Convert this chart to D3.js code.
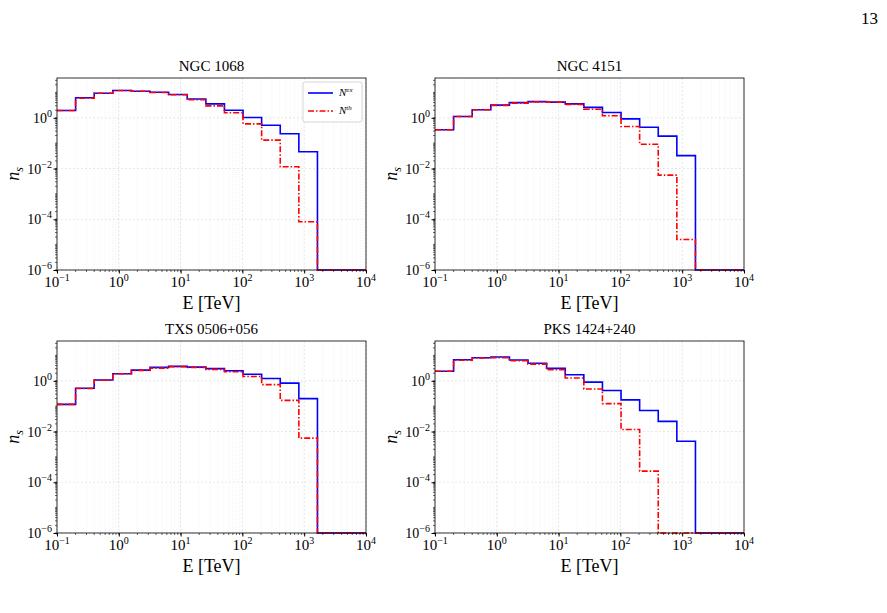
<!DOCTYPE html>
<html><head><meta charset="utf-8">
<script src="https://cdn.jsdelivr.net/npm/d3@7"></script>
<style>body{margin:0;background:#fff}text{font-family:"Liberation Serif","DejaVu Serif",serif}</style>
</head><body>
<svg id="fig" width="887" height="613"></svg>
<script>
// bin edges in TeV (last bin runs to 1e4)
const edges = [0.1,0.2,0.4,0.8,1.6,3.2,6.4,12.8,25.6,51.2,102.4,204.8,409.6,819.2,1638.4,10000];
const titles = ["NGC 1068","NGC 4151","TXS 0506+056","PKS 1424+240"];
// log10 of n_s per bin
const exLog = [
  [0.29,0.79,0.97,1.08,1.05,1.01,0.92,0.74,0.55,0.30,0.01,-0.29,-0.63,-1.34,-6],
  [-0.47,0.05,0.32,0.50,0.60,0.64,0.62,0.55,0.41,0.21,-0.04,-0.37,-0.72,-1.49,-6],
  [-0.93,-0.29,0.03,0.28,0.42,0.53,0.57,0.54,0.48,0.40,0.26,0.09,-0.09,-0.70,-6],
  [0.38,0.83,0.91,0.94,0.82,0.69,0.49,0.24,-0.05,-0.38,-0.75,-1.17,-1.60,-2.38,-6]
];
const thLog = [
  [0.29,0.77,0.97,1.08,1.05,1.00,0.91,0.71,0.47,0.20,-0.24,-0.88,-1.93,-4.10,-6],
  [-0.47,0.05,0.32,0.49,0.58,0.63,0.62,0.53,0.34,0.08,-0.34,-1.04,-2.26,-4.80,-6],
  [-0.93,-0.30,0.02,0.28,0.41,0.50,0.56,0.53,0.45,0.36,0.17,-0.15,-0.77,-2.26,-6],
  [0.38,0.81,0.90,0.91,0.79,0.66,0.44,0.11,-0.32,-0.90,-1.92,-3.56,-6,-6,-6]
];
const xTicks = [0.1,1,10,100,1000,10000];
const yTicks = [1e-6,1e-4,1e-2,1];
const sup = {"-6":"−6","-4":"−4","-2":"−2","0":"0","-1":"−1","1":"1","2":"2","3":"3","4":"4"};

const svg = d3.select("#fig");
svg.append("text").attr("x",878).attr("y",24).attr("text-anchor","end").attr("font-size",17).text("13");

const panels = [
  {x:57,y:78},{x:435,y:78},{x:57,y:341},{x:435,y:341}
];
const W = 309, H = 192;

panels.forEach((p,i) => {
  const g = svg.append("g").attr("transform",`translate(${p.x},${p.y})`);
  const x = d3.scaleLog().domain([0.1,1e4]).range([0,W]);
  const y = d3.scaleLog().domain([1e-6,Math.pow(10,1.57)]).range([H,0]);

  // grid (major + minor)
  const minorX = [];
  for (let e=-1;e<4;e++) for (let k=1;k<10;k++) minorX.push(k*Math.pow(10,e));
  minorX.push(1e4);
  const minorY = [];
  for (let e=-6;e<2;e++) for (let k=1;k<10;k++) { const v=k*Math.pow(10,e); if (v<=y.domain()[1]) minorY.push(v); }
  g.append("g").selectAll("line").data(minorX).join("line")
    .attr("x1",d=>x(d)).attr("x2",d=>x(d)).attr("y1",0).attr("y2",H)
    .attr("stroke","#e8e8e8").attr("stroke-width",0.5).attr("stroke-dasharray","1,1");
  g.append("g").selectAll("line").data(yTicks).join("line")
    .attr("y1",d=>y(d)).attr("y2",d=>y(d)).attr("x1",0).attr("x2",W)
    .attr("stroke","#d8d8d8").attr("stroke-width",0.6).attr("stroke-dasharray","2,2");
  g.append("g").selectAll("line").data(xTicks).join("line")
    .attr("x1",d=>x(d)).attr("x2",d=>x(d)).attr("y1",0).attr("y2",H)
    .attr("stroke","#d8d8d8").attr("stroke-width",0.6).attr("stroke-dasharray","2,2");

  // histograms
  const stepLine = d3.line().curve(d3.curveStepAfter).x(d=>x(d[0])).y(d=>y(d[1]));
  const pts = arr => { const a = arr.map((v,j)=>[edges[j],Math.pow(10,v)]); a.push([edges[15],Math.pow(10,arr[14])]); return a; };
  g.append("path").attr("d",stepLine(pts(exLog[i]))).attr("fill","none").attr("stroke","#0000ff").attr("stroke-width",1.6);
  g.append("path").attr("d",stepLine(pts(thLog[i]))).attr("fill","none").attr("stroke","#ff0000").attr("stroke-width",1.6).attr("stroke-dasharray","6,2,1.5,2");

  // frame
  g.append("rect").attr("width",W).attr("height",H).attr("fill","none").attr("stroke","#000").attr("stroke-width",0.8);

  // axes
  const ax = g.append("g").attr("transform",`translate(0,${H})`)
    .call(d3.axisBottom(x).tickValues(xTicks).tickSize(3.5).tickFormat(""));
  ax.select(".domain").remove();
  g.append("g").attr("transform",`translate(0,${H})`).selectAll("line").data(minorX).join("line")
    .attr("x1",d=>x(d)).attr("x2",d=>x(d)).attr("y1",0).attr("y2",2).attr("stroke","#000").attr("stroke-width",0.6);
  xTicks.forEach(t => {
    const tx = g.append("text").attr("x",x(t)).attr("y",H+17).attr("text-anchor","middle").attr("font-size",15);
    tx.append("tspan").text("10");
    tx.append("tspan").attr("dy",-6).attr("font-size",10).text(sup[Math.round(Math.log10(t))]);
  });
  const ay = g.append("g").call(d3.axisLeft(y).tickValues(yTicks).tickSize(3.5).tickFormat(""));
  ay.select(".domain").remove();
  g.append("g").selectAll("line").data(minorY).join("line")
    .attr("x1",-2).attr("x2",0).attr("y1",d=>y(d)).attr("y2",d=>y(d)).attr("stroke","#000").attr("stroke-width",0.6);
  yTicks.forEach(t => {
    const ty = g.append("text").attr("x",-5).attr("y",y(t)+5).attr("text-anchor","end").attr("font-size",14);
    ty.append("tspan").text("10");
    ty.append("tspan").attr("dy",-6).attr("font-size",10).text(sup[Math.round(Math.log10(t))]);
  });

  // labels
  g.append("text").attr("x",W/2).attr("y",-7).attr("text-anchor","middle").attr("font-size",15).text(titles[i]);
  g.append("text").attr("x",W/2).attr("y",H+39).attr("text-anchor","middle").attr("font-size",18).text("E [TeV]");
  const yl = g.append("text").attr("transform",`translate(-38,${H/2}) rotate(-90)`).attr("text-anchor","middle").attr("font-size",18).attr("font-style","italic");
  yl.append("tspan").text("n");
  yl.append("tspan").attr("dy",4).attr("font-size",12).text("s");

  if (i===0) {
    const lg = g.append("g").attr("transform",`translate(246,4)`);
    lg.append("rect").attr("width",59).attr("height",40).attr("rx",2).attr("fill","#fff").attr("stroke","#ccc").attr("stroke-width",0.8);
    lg.append("line").attr("x1",5).attr("x2",30).attr("y1",11).attr("y2",11).attr("stroke","#0000ff").attr("stroke-width",1.6);
    lg.append("line").attr("x1",5).attr("x2",30).attr("y1",29).attr("y2",29).attr("stroke","#ff0000").attr("stroke-width",1.6).attr("stroke-dasharray","6,2,1.5,2");
    [["ex",14],["th",32]].forEach(([s,yy]) => {
      const t = lg.append("text").attr("x",36).attr("y",yy).attr("font-size",11).attr("font-style","italic");
      t.append("tspan").text("N");
      t.append("tspan").attr("dy",-4).attr("font-size",7).text(s);
    });
  }
});
</script>
</body></html>
